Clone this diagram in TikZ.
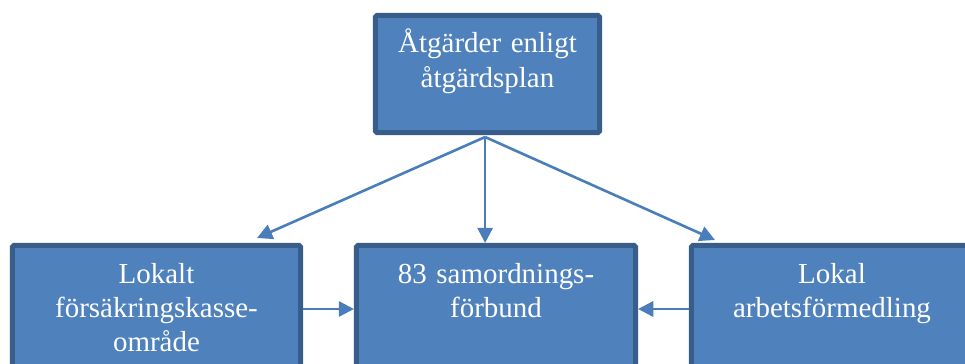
\documentclass[tikz,border=0pt]{standalone}
\usepackage{fontspec}
\setmainfont{Liberation Serif}
\usetikzlibrary{arrows.meta,positioning}

\definecolor{boxfill}{HTML}{4F81BD}
\definecolor{boxline}{HTML}{385D8A}
\definecolor{pilcolor}{HTML}{4A7EBB}

\tikzset{
  box/.style={draw=boxline, fill=boxfill, line width=0.125cm, rounded corners=1pt,
    minimum width=#1, minimum height=3.175cm, inner sep=0pt},
  boxtext/.style={anchor=base, text=white, align=center, text width=7cm, inner sep=0pt,
    font=\fontsize{20.6}{24.5}\selectfont},
  pil/.style={draw=pilcolor, line width=0.065cm, -{Triangle[length=0.38cm, width=0.38cm]}}
}

\begin{document}
\begin{tikzpicture}[x=0.025cm, y=-0.025cm]

\useasboundingbox (0,0) rectangle (965,363);
\clip (0,0) rectangle (965,363);

\node [box=5.6cm, minimum height=2.925cm] (plan) at (487.5,74) {};
\node [box=7.2cm] (kassa) at (156.5,309) {};
\node [box=6.975cm] (samf) at (496,309) {};
\node [box=7.025cm] (arbf) at (832,309) {};

\node [boxtext] (plantext) at ([yshift=-1cm]plan.north) {Åtgärder enligt\\åtgärdsplan};
\node [boxtext] (kassatext) at ([yshift=-1cm]kassa.north) {Lokalt\\försäkringskasse-\\område};
\node [boxtext] (samftext) at ([yshift=-1cm]samf.north) {83 samordnings-\\förbund};
\node [boxtext] (arbftext) at ([yshift=-1cm]arbf.north) {Lokal\\arbetsförmedling};

\coordinate (split) at ([xshift=-0.06cm, yshift=-0.05cm]plan.south);
\coordinate (kassa-in) at ([xshift=-1.15cm, yshift=0.125cm]kassa.north east);
\coordinate (arbf-in) at ([xshift=0.65cm, yshift=0.075cm]arbf.north west);

\draw [pil] (split) -- (kassa-in);
\draw [pil] (split) -- (split |- samf.north);
\draw [pil] (split) -- (arbf-in);

\draw [pil] (kassa.east) -- (samf.west);
\draw [pil] (arbf.west) -- (samf.east);

\end{tikzpicture}
\end{document}
